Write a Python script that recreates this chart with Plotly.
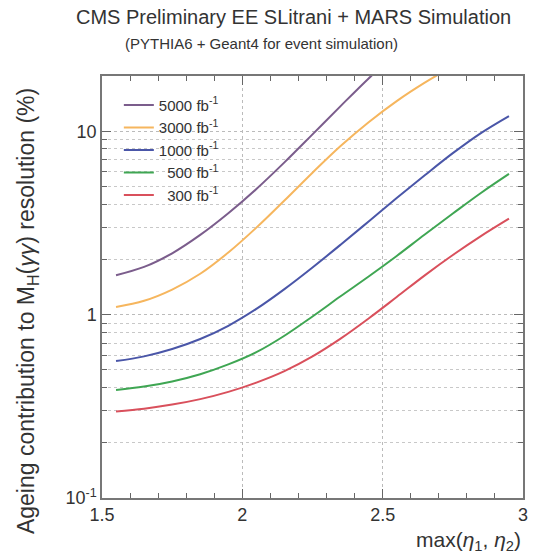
import plotly.graph_objects as go

# ---- data ----
eta = [1.55, 1.65, 1.75, 1.85, 1.95, 2.05, 2.15, 2.25, 2.35, 2.45, 2.55, 2.65, 2.75, 2.85, 2.95]

res_5000 = [1.64, 1.82, 2.16, 2.72, 3.57, 4.84, 6.76, 9.61, 13.7, 19.4, 26.8, None, None, None, None]
res_3000 = [1.10, 1.19, 1.37, 1.67, 2.18, 2.98, 4.19, 5.94, 8.30, 11.2, 14.6, 18.4, 22.6, None, None]
res_1000 = [0.558, 0.592, 0.649, 0.736, 0.869, 1.074, 1.377, 1.807, 2.404, 3.22, 4.32, 5.75, 7.59, 9.77, 12.1]
res_500 = [0.388, 0.405, 0.432, 0.473, 0.535, 0.624, 0.767, 0.977, 1.259, 1.614, 2.089, 2.735, 3.556, 4.603, 5.848]
res_300 = [0.296, 0.307, 0.323, 0.346, 0.379, 0.426, 0.492, 0.592, 0.740, 0.953, 1.247, 1.637, 2.113, 2.679, 3.334]

series_names = ["5000 fb<sup>-1</sup>", "3000 fb<sup>-1</sup>", "1000 fb<sup>-1</sup>",
                "\u2007500 fb<sup>-1</sup>", "\u2007300 fb<sup>-1</sup>"]
series_values = [res_5000, res_3000, res_1000, res_500, res_300]
series_colors = ["#7b5d8c", "#f6b65e", "#4a56a8", "#3fa653", "#d9505c"]

x_major = [1.5, 2, 2.5, 3]
x_major_text = ["1.5", "2", "2.5", "3"]
x_minor = [1.6, 1.7, 1.8, 1.9, 2.1, 2.2, 2.3, 2.4, 2.6, 2.7, 2.8, 2.9]
y_major = [0.1, 1, 10]
y_major_text = ["10<sup>-1</sup>", "1", "10"]
y_minor = [m * d for d in (0.1, 1, 10) for m in range(2, 10)] + [20]

FONT = "Liberation Sans, Arial, Helvetica, sans-serif"
TXT = "#333333"

fig = go.Figure()
for name, vals, col in zip(series_names, series_values, series_colors):
    fig.add_trace(go.Scatter(x=eta, y=vals, mode="lines", name=name,
                             line=dict(color=col, width=2, shape="spline", smoothing=1.0),
                             connectgaps=False))

fig.update_layout(
    width=551, height=556,
    margin=dict(l=102, r=28, t=76, b=58),
    paper_bgcolor="white", plot_bgcolor="white",
    font=dict(family=FONT, color=TXT, size=17),
    showlegend=True,
    legend=dict(x=0.04, y=0.97, xanchor="left", yanchor="top",
                bgcolor="rgba(0,0,0,0)", font=dict(size=15, color=TXT),
                tracegroupgap=0, itemwidth=30),
)

fig.update_xaxes(
    range=[1.5, 3.0], tickmode="array", tickvals=x_major, ticktext=x_major_text,
    ticks="inside", ticklen=9, tickcolor="#666", tickwidth=1,
    showline=True, linecolor="#777", linewidth=1.5, mirror="ticks",
    showgrid=True, gridcolor="#bbbbbb", griddash="dot", gridwidth=1,
    zeroline=False, tickfont=dict(size=18, color=TXT),
    minor=dict(tickmode="array", tickvals=x_minor,
               ticks="inside", ticklen=5, tickcolor="#666", showgrid=False),
)
fig.update_yaxes(
    type="log", range=[-1, 1.30103],
    tickmode="array", tickvals=y_major, ticktext=y_major_text,
    ticks="inside", ticklen=9, tickcolor="#666", tickwidth=1,
    showline=True, linecolor="#777", linewidth=1.5, mirror="ticks",
    showgrid=True, gridcolor="#bbbbbb", griddash="dot", gridwidth=1,
    zeroline=False, tickfont=dict(size=18, color=TXT),
    minor=dict(tickmode="array", tickvals=y_minor, ticks="inside", ticklen=5,
               tickcolor="#666", showgrid=True, gridcolor="#c8c8c8", griddash="dot", gridwidth=1),
)

fig.add_annotation(text="CMS Preliminary EE SLitrani + MARS Simulation",
                   xref="paper", yref="paper", x=0.455, y=1.0, yshift=59,
                   xanchor="center", yanchor="middle", showarrow=False,
                   font=dict(size=20, color=TXT))
fig.add_annotation(text="(PYTHIA6 + Geant4 for event simulation)",
                   xref="paper", yref="paper", x=0.38, y=1.0, yshift=33,
                   xanchor="center", yanchor="middle", showarrow=False,
                   font=dict(size=15, color=TXT))
fig.add_annotation(text="max(<i>η</i><sub>1</sub>, <i>η</i><sub>2</sub>)",
                   xref="paper", yref="paper", x=1.0, y=0, yshift=-43,
                   xanchor="right", yanchor="middle", showarrow=False,
                   font=dict(size=21, color=TXT))
fig.add_annotation(text="Ageing contribution to M<sub>H</sub>(<i>γγ</i>) resolution (%)",
                   xref="paper", yref="paper", x=0, xshift=-75, y=0.443,
                   xanchor="center", yanchor="middle", textangle=-90, showarrow=False,
                   font=dict(size=23, color=TXT))

fig.write_html("out.html")
